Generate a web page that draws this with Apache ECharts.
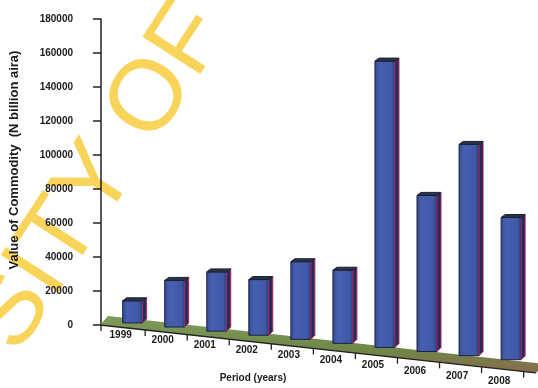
<!DOCTYPE html>
<html><head><meta charset="utf-8">
<script src="https://cdn.jsdelivr.net/npm/echarts@6/dist/echarts.min.js"></script>
<style>html,body{margin:0;padding:0;background:#fff}#c{width:538px;height:388px}</style>
</head><body><div id="c"></div>
<script>
// ---- data ----
const years = [1999, 2000, 2001, 2002, 2003, 2004, 2005, 2006, 2007, 2008];
const values = [16000, 28000, 33000, 28500, 39000, 34000, 157000, 78000, 108000, 65000];
const yTicks = [0, 20000, 40000, 60000, 80000, 100000, 120000, 140000, 160000, 180000];
const yName = 'Value of Commodity  (N billion aira)';
const xName = 'Period (years)';
const watermark = 'SITY OF';

// ---- layout / style ----
const FONT = '"Liberation Sans", Arial, sans-serif';
const XMIN = 1998.2, XMAX = 2008.52;
const FLOOR_SLOPE = 0.11;

const chart = echarts.init(document.getElementById('c'), null, {renderer: 'canvas'});

function floorSeriesRender(params, api) {
  const cs = params.coordSys;
  const left = cs.x - 1, right = cs.x + cs.width + 1;
  const base = cs.y + cs.height;
  const yl = base, yr = base + FLOOR_SLOPE * (right - left);
  const children = [];
  children.push({
    type: 'polygon',
    shape: {points: [[left + 8, yl - 9], [right + 8, yr - 9], [right, yr], [left, yl]]},
    style: {fill: new echarts.graphic.LinearGradient(0, 0, 0, 1, [
      {offset: 0, color: '#7f9c5a'}, {offset: 0.6, color: '#6f8748'}, {offset: 1, color: '#8a6a4e'}
    ])}
  });
  children.push({type: 'line', shape: {x1: left, y1: yl, x2: right, y2: yr},
    style: {stroke: '#222', lineWidth: 1.3}});
  const tickVals = [XMIN].concat(years.map(y => y + 0.25));
  tickVals.forEach(v => {
    const px = api.coord([v, 0])[0];
    const py = base + FLOOR_SLOPE * (px - left);
    children.push({type: 'line', shape: {x1: px, y1: py, x2: px, y2: py + 6},
      style: {stroke: '#222', lineWidth: 1.3}});
  });
  return {type: 'group', children};
}

function barRender(params, api) {
  const cs = params.coordSys;
  const x = api.value(0), v = api.value(1);
  const p = api.coord([x, v]);
  const b = api.coord([x, 0]);
  const cx = p[0], top = p[1];
  const bot = b[1] - 2 + 0.097 * (cx - cs.x - 34);
  const L = cx - 12, R = cx + 8, D = 4;
  const lx = cx - 14;
  const ly = b[1] + 10 + 0.122 * (cx - cs.x - 34);
  return {type: 'group', children: [
    {type: 'rect', shape: {x: L, y: top + D - 1, width: R - L, height: bot - top - D + 1},
      style: {fill: new echarts.graphic.LinearGradient(0, 0, 1, 0, [
        {offset: 0, color: '#34488f'}, {offset: 0.25, color: '#4660b0'}, {offset: 0.8, color: '#4058a8'}, {offset: 1, color: '#2c3a78'}
      ]), stroke: '#1b2244', lineWidth: 1}},
    {type: 'polygon', shape: {points: [[R, top + D - 1], [R + D, top], [R + D, bot - D], [R, bot]]},
      style: {fill: '#262a5a', stroke: '#b42a5e', lineWidth: 1}},
    {type: 'polygon', shape: {points: [[L, top + D - 1], [L + D, top], [R + D, top], [R, top + D - 1]]},
      style: {fill: '#2b3344', stroke: '#1b2030', lineWidth: 1}},
    {type: 'text', x: lx, y: ly,
      style: {text: String(x), font: 'bold 10px ' + FONT, fill: '#1a1a1a', align: 'center', verticalAlign: 'middle'}}
  ]};
}

const option = {
  backgroundColor: '#ffffff',
  animation: false,
  grid: {left: 98, right: 3, top: 19, bottom: 60, containLabel: false},
  xAxis: {
    type: 'value', min: XMIN, max: XMAX,
    name: xName, nameLocation: 'middle', nameGap: 48,
    nameTextStyle: {fontFamily: FONT, fontWeight: 'bold', fontSize: 10, color: '#1a1a1a', padding: [0, 130, 0, 0]},
    axisLine: {show: false}, axisTick: {show: false}, axisLabel: {show: false}, splitLine: {show: false}
  },
  yAxis: {
    type: 'value', min: yTicks[0], max: yTicks[yTicks.length - 1], interval: yTicks[1] - yTicks[0],
    name: yName, nameLocation: 'middle', nameGap: 80,
    nameTextStyle: {fontFamily: FONT, fontWeight: 'bold', fontSize: 13, color: '#1a1a1a', padding: [0, 0, 0, 24]},
    axisLine: {show: true, lineStyle: {color: '#222', width: 1.5}},
    axisTick: {show: true, inside: false, length: 8, lineStyle: {color: '#222', width: 1.5}},
    axisLabel: {margin: 28, fontFamily: FONT, fontWeight: 'bold', fontSize: 10, color: '#1a1a1a',
      formatter: v => String(v)},
    splitLine: {show: false}
  },
  graphic: {elements: [{
    type: 'text', z: -100, x: -6, y: 341, rotation: 57 * Math.PI / 180,
    style: {text: watermark, font: '100px ' + FONT, fill: '#f9d45a', align: 'left', verticalAlign: 'middle'}
  }]},
  series: [
    {type: 'custom', z: 1, renderItem: floorSeriesRender, data: [[XMIN, 0]], silent: true},
    {type: 'custom', z: 2, renderItem: barRender, data: years.map((y, i) => [y, values[i]]),
      encode: {x: 0, y: 1}}
  ]
};
chart.setOption(option);
</script></body></html>
